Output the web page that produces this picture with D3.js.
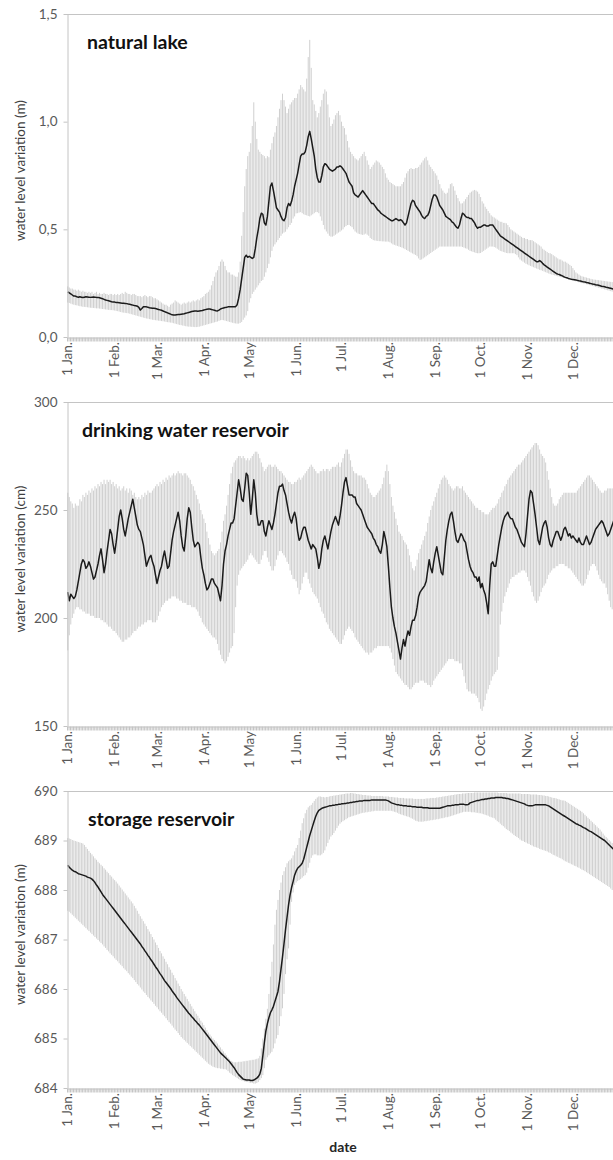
<!DOCTYPE html>
<html>
<head>
<meta charset="utf-8">
<script src="https://cdn.jsdelivr.net/npm/d3@7"></script>
<style>
  body { margin: 0; background: #fff; }
  svg { display: block; }
  text { font-family: Lato, "Open Sans", sans-serif; }
</style>
</head>
<body>
<svg id="chart" width="613" height="1160"></svg>
<script>
// ---- calendar (one value per day, 1 Jan .. 31 Dec) ----
const monthLabels = ["1 Jan.", "1 Feb.", "1 Mar.", "1 Apr.", "1 May", "1 Jun.", "1 Jul.", "1 Aug.", "1 Sep.", "1 Oct.", "1 Nov.", "1 Dec."];
const monthStartDays = [0, 31, 59, 90, 120, 151, 181, 212, 243, 273, 304, 334];

// ---- natural lake (m): daily mean, minimum and maximum ----
const lakeMean = [
  .21,.205,.20,.195,.19,.19,.187,.185,.187,.185,.183,.185,.187,.186,.185,.184,.185,.186,.185,.184,.184,.182,.18,.178,.175,.172,.17,.168,.166,.164,.163,
  .162,.16,.16,.159,.158,.157,.157,.156,.155,.153,.152,.15,.148,.146,.145,.143,.138,.125,.132,.14,.141,.14,.138,.136,.135,.134,.133,.132,
  .13,.128,.126,.124,.121,.118,.115,.112,.109,.106,.103,.102,.102,.103,.104,.105,.106,.107,.108,.11,.112,.114,.116,.118,.12,.121,.121,.12,.121,.122,.123,
  .125,.127,.129,.13,.13,.128,.126,.124,.122,.121,.125,.13,.133,.135,.137,.138,.14,.14,.14,.141,.141,.141,.15,.18,.22,.27,.32,.37,.38,.37,
  .375,.37,.365,.37,.41,.46,.5,.55,.575,.57,.53,.52,.56,.63,.7,.715,.68,.64,.6,.59,.58,.56,.545,.54,.555,.6,.62,.61,.63,.66,.7,
  .73,.76,.80,.84,.85,.85,.86,.89,.93,.955,.92,.88,.84,.78,.74,.72,.72,.75,.79,.805,.80,.79,.78,.775,.77,.775,.78,.79,.79,.795,
  .79,.78,.77,.76,.74,.72,.71,.70,.67,.66,.655,.65,.66,.67,.68,.67,.66,.65,.64,.63,.62,.62,.61,.60,.59,.585,.575,.57,.565,.56,.555,
  .55,.545,.54,.54,.545,.55,.545,.54,.545,.54,.53,.52,.53,.56,.59,.62,.635,.63,.61,.6,.59,.58,.565,.555,.55,.56,.565,.58,.61,.64,.66,
  .66,.65,.63,.61,.6,.59,.575,.56,.555,.55,.545,.535,.53,.52,.51,.505,.52,.55,.575,.57,.56,.555,.555,.55,.55,.54,.53,.515,.505,.51,
  .51,.515,.52,.52,.515,.515,.52,.52,.52,.51,.5,.49,.48,.47,.465,.46,.455,.45,.445,.44,.435,.43,.425,.42,.415,.41,.405,.4,.395,.39,.385,
  .38,.375,.37,.365,.36,.355,.35,.35,.355,.35,.342,.335,.33,.325,.32,.315,.31,.305,.3,.295,.292,.29,.287,.284,.28,.277,.275,.272,.27,.268,
  .267,.266,.265,.263,.261,.26,.258,.256,.255,.253,.252,.25,.248,.246,.245,.243,.242,.24,.238,.236,.235,.233,.231,.23,.228,.226,.224,.222,.22,.218,.216
];
const lakeLow = [
  .16,.158,.155,.152,.15,.148,.147,.145,.143,.142,.14,.14,.139,.138,.137,.136,.135,.135,.134,.133,.133,.132,.131,.13,.129,.128,.127,.126,.125,.125,.124,
  .123,.121,.12,.118,.116,.114,.113,.112,.111,.11,.108,.106,.104,.102,.1,.098,.096,.094,.092,.09,.088,.086,.085,.083,.082,.08,.079,.078,
  .077,.076,.075,.074,.073,.072,.07,.069,.068,.067,.066,.064,.062,.06,.058,.056,.055,.053,.052,.05,.049,.048,.048,.047,.047,.046,.046,.047,.048,.05,.052,
  .054,.056,.058,.06,.062,.064,.066,.068,.07,.072,.075,.078,.079,.078,.076,.074,.072,.07,.068,.066,.064,.063,.062,.062,.065,.07,.08,.09,.1,.12,
  .16,.18,.2,.21,.22,.23,.24,.25,.26,.265,.28,.3,.32,.34,.37,.4,.42,.43,.44,.45,.46,.47,.48,.485,.489,.5,.51,.52,.53,.55,.56,
  .574,.575,.578,.58,.575,.57,.567,.565,.562,.56,.565,.57,.575,.58,.58,.575,.56,.54,.52,.5,.49,.48,.47,.466,.466,.47,.475,.48,.485,.489,
  .495,.5,.51,.515,.52,.52,.515,.51,.5,.49,.485,.48,.478,.476,.474,.476,.48,.475,.47,.46,.455,.45,.448,.447,.446,.445,.445,.444,.444,.443,.443,
  .443,.44,.435,.43,.428,.425,.423,.42,.418,.415,.412,.408,.404,.4,.396,.392,.388,.384,.381,.375,.365,.358,.36,.365,.37,.375,.38,.385,.39,.395,.4,
  .405,.41,.415,.42,.42,.42,.42,.42,.42,.42,.42,.42,.42,.42,.42,.42,.42,.42,.418,.415,.412,.41,.405,.4,.398,.395,.393,.39,.389,.389,
  .39,.395,.4,.405,.41,.415,.42,.42,.42,.418,.415,.41,.405,.4,.398,.395,.393,.39,.389,.389,.389,.389,.389,.385,.38,.37,.36,.355,.35,.345,.34,
  .337,.333,.33,.327,.324,.321,.318,.315,.312,.31,.307,.304,.301,.298,.295,.292,.29,.288,.286,.284,.282,.28,.278,.276,.274,.272,.27,.268,.266,.264,
  .262,.26,.258,.256,.254,.252,.25,.249,.247,.245,.243,.241,.239,.237,.235,.233,.231,.229,.227,.225,.223,.221,.219,.217,.215,.213,.211,.209,.207,.205,.203
];
const lakeHigh = [
  .235,.23,.225,.225,.22,.22,.215,.22,.215,.21,.215,.21,.21,.205,.21,.205,.21,.2,.205,.21,.2,.205,.2,.2,.205,.2,.2,.195,.2,.2,.195,
  .2,.195,.2,.195,.2,.205,.2,.21,.205,.2,.2,.195,.2,.2,.195,.19,.19,.19,.185,.19,.195,.19,.185,.19,.19,.185,.18,.18,
  .175,.17,.165,.16,.155,.15,.15,.145,.14,.15,.155,.16,.17,.165,.16,.155,.15,.155,.16,.155,.16,.165,.16,.165,.17,.165,.17,.175,.17,.18,.185,
  .19,.2,.205,.21,.22,.24,.26,.28,.3,.31,.33,.35,.36,.35,.33,.31,.3,.3,.29,.29,.285,.28,.28,.3,.35,.47,.58,.7,.78,.84,
  .86,.9,.98,1.09,1.0,.92,.87,.86,.85,.845,.84,.83,.84,.835,.87,.9,.93,.95,.98,1.02,1.06,1.1,1.13,1.1,1.07,1.04,1.06,1.08,1.09,1.1,1.11,
  1.11,1.13,1.15,1.17,1.16,1.15,1.14,1.2,1.3,1.38,1.25,1.1,1.08,1.05,1.02,1.04,1.07,1.1,1.13,1.15,1.14,1.08,1.02,.98,.99,1.01,1.03,1.04,1.05,1.03,
  1.0,.98,.97,.94,.91,.88,.86,.85,.84,.83,.825,.82,.83,.84,.85,.86,.84,.82,.8,.78,.79,.8,.81,.82,.815,.81,.8,.79,.78,.76,.74,
  .73,.72,.715,.71,.705,.7,.7,.7,.7,.71,.72,.74,.76,.77,.78,.785,.78,.78,.785,.785,.79,.8,.81,.82,.83,.837,.82,.8,.79,.78,.77,
  .76,.75,.73,.71,.69,.68,.67,.665,.67,.69,.71,.714,.7,.68,.66,.645,.63,.62,.621,.63,.64,.65,.66,.67,.675,.68,.683,.68,.675,.665,
  .65,.63,.62,.605,.595,.585,.575,.565,.559,.555,.55,.545,.54,.535,.535,.53,.53,.528,.52,.51,.5,.495,.49,.485,.48,.475,.47,.465,.46,.46,.455,
  .455,.45,.45,.45,.445,.44,.435,.43,.425,.42,.41,.405,.4,.395,.39,.389,.385,.38,.375,.37,.365,.36,.36,.355,.35,.35,.345,.34,.335,.33,
  .32,.31,.3,.295,.29,.285,.282,.28,.278,.276,.274,.272,.27,.268,.267,.266,.265,.264,.263,.262,.261,.26,.259,.258,.257,.256,.255,.254,.253,.252,.251
];

// ---- drinking water reservoir (cm): daily mean, minimum and maximum ----
const drinkMean = [
  212,208,211,210,209,210,213,217,221,225,227,226,223,224,226,224,221,218,219,222,225,229,232,227,221,225,231,236,241,239,234,
  230,235,241,247,250,246,241,238,242,246,249,252,255,251,247,243,241,240,237,234,229,224,226,228,229,226,224,220,
  216,219,222,224,228,231,227,223,224,230,236,240,243,246,249,245,238,233,231,238,246,251,249,242,236,233,234,235,234,228,223,
  220,216,213,214,216,218,218,216,215,214,211,208,215,225,231,234,238,241,244,244,246,252,258,264,260,255,254,260,267,266,
  258,248,255,264,258,248,243,243,245,245,240,238,242,245,243,241,244,248,253,258,261,261,262,259,257,253,249,246,244,247,249,
  246,240,236,237,240,242,242,239,236,234,232,234,233,232,228,223,226,232,236,238,235,232,236,240,243,245,247,245,243,247,
  252,258,263,265,261,257,257,257,256,256,253,252,251,250,248,246,244,242,241,240,239,237,236,234,233,231,230,234,240,237,233,
  224,214,205,200,196,193,189,185,181,186,190,187,191,194,192,196,199,199,201,205,210,212,213,214,215,217,222,227,223,221,226,
  230,233,229,225,221,220,228,236,241,245,248,249,245,240,236,235,237,239,238,236,235,231,227,224,222,221,219,219,217,219,
  214,216,213,211,207,202,215,225,226,224,224,229,234,238,242,245,247,248,249,247,246,246,244,242,241,239,237,235,234,233,239,
  247,255,259,258,253,248,242,236,234,238,242,244,245,242,237,234,233,236,238,240,240,238,236,238,241,242,240,238,239,237,
  238,237,236,235,237,235,234,234,236,238,236,234,235,237,239,241,242,243,244,245,244,242,240,238,239,241,243,245,244,242,243
];
const drinkLow = [
  185,192,197,200,202,204,205,205,204,204,203,203,202,202,202,201,201,201,200,200,200,200,199,199,198,198,197,196,196,195,194,
  194,193,192,191,190,189,189,190,190,191,191,192,193,194,194,195,196,196,197,197,198,198,199,199,199,198,198,198,
  199,201,203,205,206,207,208,208,209,209,210,210,210,209,209,208,208,207,207,207,206,206,206,205,205,205,204,203,201,200,198,
  197,196,195,194,193,192,191,191,190,188,185,183,181,180,179,180,182,184,186,187,193,205,215,220,222,223,224,225,226,227,
  229,230,229,228,227,226,225,225,227,229,231,231,228,226,224,222,222,224,227,229,231,231,230,229,228,226,225,222,220,218,218,
  217,214,211,213,216,219,221,221,218,216,214,212,211,210,209,207,205,203,202,200,198,197,195,194,193,192,191,190,189,188,
  188,190,192,194,195,196,195,194,193,191,190,189,188,187,186,185,184,184,183,184,184,185,186,186,187,187,187,187,187,187,187,
  187,186,184,181,178,175,174,173,172,171,170,169,169,168,167,167,168,169,170,170,170,171,171,171,170,170,169,169,168,169,171,
  172,173,174,175,176,177,178,179,180,181,181,181,181,180,180,180,179,179,176,173,170,167,166,166,165,165,165,164,163,161,
  158,157,159,162,165,167,169,171,173,174,175,176,182,197,203,207,210,212,214,216,218,219,219,220,220,221,221,222,222,222,221,
  219,217,215,212,210,208,207,208,210,212,214,215,216,218,220,221,222,223,223,224,224,225,225,225,225,224,224,223,223,222,
  221,220,219,218,217,216,215,215,216,218,220,222,224,225,225,224,222,220,218,217,216,216,214,211,208,205,204,204,203,203,203
];
const drinkHigh = [
  258,256,254,253,251,253,252,252,255,254,257,256,258,257,259,258,260,259,261,260,262,261,263,262,264,262,264,263,264,262,263,
  261,262,260,261,259,260,261,259,260,258,260,259,257,258,256,255,256,255,257,256,258,257,259,258,258,259,260,261,
  262,261,263,262,264,263,265,264,266,265,266,267,266,267,268,267,267,266,267,267,266,265,264,262,261,259,257,255,253,250,248,
  246,244,240,237,234,231,230,229,230,231,232,235,240,245,248,252,257,262,267,270,272,273,274,275,275,274,275,274,273,274,
  273,274,275,276,277,277,276,274,272,270,268,269,270,271,271,270,270,271,270,269,268,268,267,266,265,264,263,263,262,262,263,
  263,264,265,264,265,266,267,268,269,270,271,270,269,268,267,267,268,268,269,268,269,269,268,269,270,270,270,271,272,270,
  272,274,276,278,278,276,273,270,268,267,267,266,266,266,265,265,264,262,260,258,257,256,256,257,258,259,260,262,265,268,271,
  268,262,256,252,249,246,243,240,239,238,236,235,234,232,229,226,223,222,224,227,230,232,234,236,238,240,244,247,250,252,254,
  256,258,260,262,264,265,266,265,264,262,261,260,259,260,261,261,260,260,261,259,258,257,256,255,254,253,252,251,251,250,
  250,249,249,248,248,248,249,250,251,251,252,253,255,256,258,259,261,262,264,265,266,267,268,269,270,271,271,272,273,274,275,
  276,277,278,279,280,281,281,280,278,276,275,274,272,268,264,260,256,253,252,252,253,255,256,257,258,258,258,258,258,258,
  258,258,258,259,260,261,262,263,264,265,266,266,265,264,263,262,261,260,259,258,258,259,259,260,260,260,260,259,259,258,258
];

// ---- storage reservoir (m a.s.l.): daily mean, minimum and maximum ----
const storageMean = [
  688.50,688.46,688.43,688.40,688.38,688.37,688.35,688.33,688.32,688.31,688.30,688.29,688.28,688.26,688.25,688.24,688.22,688.19,688.15,688.10,688.06,688.01,687.96,687.91,687.87,687.83,687.79,687.75,687.71,687.67,687.63,
  687.59,687.55,687.51,687.47,687.43,687.39,687.35,687.31,687.27,687.23,687.19,687.15,687.11,687.07,687.03,686.99,686.95,686.91,686.86,686.82,686.77,686.73,686.68,686.64,686.59,686.55,686.50,686.45,
  686.41,686.36,686.31,686.27,686.22,686.17,686.13,686.09,686.05,686.01,685.96,685.92,685.88,685.83,685.79,685.75,685.71,685.67,685.63,685.59,685.55,685.51,685.48,685.44,685.41,685.37,685.34,685.30,685.27,685.23,685.19,
  685.15,685.11,685.07,685.03,684.99,684.95,684.91,684.87,684.83,684.79,684.75,684.71,684.68,684.65,684.62,684.59,684.56,684.53,684.49,684.45,684.41,684.36,684.31,684.27,684.24,684.21,684.18,684.17,684.16,684.16,
  684.16,684.15,684.15,684.16,684.18,684.20,684.23,684.28,684.40,684.65,684.92,685.15,685.30,685.42,685.52,685.58,685.65,685.75,685.85,685.95,686.15,686.40,686.65,686.92,687.20,687.45,687.70,687.90,688.05,688.17,688.30,
  688.38,688.44,688.47,688.50,688.54,688.62,688.74,688.86,688.98,689.10,689.20,689.30,689.40,689.49,689.56,689.61,689.63,689.65,689.66,689.67,689.68,689.69,689.70,689.70,689.71,689.71,689.72,689.72,689.73,689.73,
  689.74,689.74,689.75,689.75,689.76,689.76,689.77,689.77,689.78,689.78,689.79,689.79,689.80,689.80,689.80,689.81,689.81,689.81,689.81,689.81,689.82,689.82,689.82,689.82,689.82,689.82,689.82,689.82,689.82,689.82,689.81,
  689.80,689.78,689.76,689.75,689.74,689.73,689.72,689.72,689.71,689.71,689.70,689.70,689.70,689.69,689.69,689.69,689.68,689.68,689.68,689.67,689.67,689.67,689.67,689.66,689.66,689.66,689.66,689.65,689.65,689.65,689.65,
  689.65,689.65,689.65,689.65,689.66,689.67,689.68,689.69,689.70,689.70,689.70,689.71,689.71,689.72,689.72,689.72,689.73,689.73,689.73,689.73,689.72,689.72,689.73,689.76,689.77,689.78,689.79,689.80,689.81,689.81,
  689.82,689.83,689.83,689.84,689.84,689.85,689.85,689.86,689.86,689.86,689.87,689.87,689.87,689.87,689.87,689.86,689.86,689.85,689.85,689.84,689.83,689.82,689.81,689.80,689.79,689.78,689.77,689.76,689.75,689.74,689.72,
  689.71,689.70,689.70,689.70,689.71,689.72,689.72,689.72,689.72,689.72,689.72,689.72,689.72,689.71,689.70,689.68,689.66,689.64,689.62,689.60,689.58,689.56,689.54,689.52,689.50,689.48,689.46,689.44,689.42,689.40,
  689.38,689.36,689.34,689.33,689.31,689.30,689.28,689.26,689.25,689.23,689.21,689.19,689.18,689.16,689.14,689.12,689.10,689.08,689.06,689.04,689.02,689.00,688.97,688.94,688.91,688.88,688.85,688.82,688.79,688.76,688.73
];
const storageLow = [
  687.58,687.56,687.53,687.50,687.47,687.44,687.41,687.38,687.35,687.32,687.29,687.26,687.23,687.20,687.17,687.14,687.11,687.08,687.05,687.02,686.99,686.96,686.93,686.90,686.86,686.83,686.79,686.76,686.72,686.69,686.66,
  686.62,686.59,686.56,686.52,686.49,686.46,686.42,686.39,686.36,686.32,686.29,686.25,686.22,686.18,686.14,686.10,686.07,686.03,685.99,685.95,685.92,685.88,685.84,685.81,685.77,685.74,685.70,685.66,
  685.63,685.59,685.55,685.52,685.48,685.45,685.41,685.37,685.33,685.30,685.26,685.22,685.18,685.15,685.11,685.07,685.03,685.00,684.97,684.94,684.91,684.88,684.85,684.82,684.79,684.76,684.73,684.70,684.67,684.64,684.61,
  684.58,684.55,684.52,684.49,684.47,684.45,684.43,684.42,684.41,684.40,684.40,684.39,684.39,684.38,684.38,684.37,684.34,684.31,684.29,684.26,684.24,684.22,684.20,684.18,684.16,684.15,684.14,684.13,684.12,684.12,
  684.11,684.10,684.10,684.09,684.09,684.10,684.12,684.16,684.20,684.26,684.40,684.57,684.62,684.66,684.70,684.73,684.80,684.90,685.00,685.07,685.25,685.45,685.61,685.90,686.30,686.60,686.82,687.30,687.76,687.95,688.10,
  688.15,688.18,688.20,688.22,688.25,688.28,688.30,688.35,688.45,688.55,688.65,688.70,688.72,688.72,688.70,688.70,688.70,688.72,688.75,688.80,688.88,688.95,689.02,689.08,689.11,689.15,689.20,689.25,689.30,689.34,
  689.37,689.39,689.41,689.43,689.45,689.47,689.48,689.49,689.50,689.51,689.52,689.53,689.54,689.55,689.56,689.56,689.57,689.57,689.58,689.58,689.59,689.59,689.60,689.60,689.60,689.60,689.60,689.60,689.60,689.60,689.60,
  689.60,689.60,689.60,689.59,689.58,689.57,689.56,689.54,689.53,689.52,689.51,689.50,689.49,689.48,689.47,689.45,689.44,689.42,689.40,689.39,689.38,689.38,689.38,689.38,689.39,689.39,689.40,689.40,689.41,689.41,689.42,
  689.42,689.43,689.43,689.44,689.45,689.45,689.46,689.47,689.47,689.48,689.49,689.50,689.51,689.52,689.53,689.54,689.55,689.56,689.57,689.58,689.58,689.58,689.58,689.58,689.57,689.57,689.57,689.56,689.56,689.55,
  689.55,689.54,689.53,689.52,689.51,689.50,689.48,689.47,689.46,689.45,689.42,689.39,689.37,689.34,689.31,689.29,689.26,689.23,689.21,689.19,689.16,689.14,689.11,689.09,689.07,689.05,689.02,689.00,688.99,688.97,688.96,
  688.94,688.93,688.91,688.90,688.88,688.87,688.86,688.85,688.83,688.82,688.81,688.80,688.79,688.78,688.76,688.75,688.73,688.71,688.70,688.68,688.67,688.65,688.64,688.62,688.60,688.58,688.57,688.55,688.54,688.52,
  688.51,688.49,688.48,688.46,688.45,688.43,688.41,688.40,688.38,688.36,688.34,688.32,688.30,688.28,688.26,688.24,688.22,688.20,688.18,688.16,688.14,688.12,688.10,688.08,688.06,688.03,688.00,687.98,687.96,687.94,687.92
];
const storageHigh = [
  689.05,689.04,689.03,689.01,689.00,688.99,688.98,688.97,688.96,688.95,688.94,688.91,688.87,688.83,688.79,688.75,688.72,688.68,688.64,688.61,688.57,688.54,688.51,688.48,688.44,688.41,688.37,688.34,688.30,688.27,688.23,
  688.20,688.17,688.13,688.09,688.05,688.01,687.97,687.93,687.89,687.85,687.81,687.77,687.73,687.68,687.63,687.58,687.52,687.47,687.42,687.37,687.32,687.27,687.21,687.16,687.11,687.05,687.00,686.94,
  686.89,686.83,686.77,686.72,686.66,686.61,686.55,686.50,686.44,686.39,686.33,686.28,686.22,686.17,686.11,686.06,686.00,685.95,685.90,685.85,685.80,685.75,685.70,685.65,685.60,685.55,685.50,685.46,685.41,685.36,685.32,
  685.27,685.22,685.17,685.12,685.08,685.04,685.00,684.97,684.94,684.90,684.86,684.82,684.78,684.74,684.70,684.66,684.62,684.58,684.55,684.53,684.52,684.52,684.52,684.53,684.53,684.53,684.54,684.54,684.55,684.55,
  684.56,684.56,684.57,684.57,684.58,684.59,684.60,684.65,684.80,685.00,685.20,685.40,685.60,685.90,686.25,686.55,686.90,687.30,687.60,687.80,688.00,688.15,688.30,688.38,688.46,688.54,688.58,688.61,688.64,688.70,688.78,
  688.85,688.91,689.05,689.20,689.35,689.45,689.55,689.62,689.67,689.70,689.72,689.76,689.80,689.84,689.87,689.89,689.89,689.88,689.88,689.87,689.88,689.88,689.89,689.90,689.90,689.91,689.91,689.92,689.92,689.93,
  689.93,689.94,689.94,689.95,689.95,689.95,689.96,689.96,689.95,689.95,689.94,689.94,689.93,689.93,689.92,689.92,689.92,689.91,689.91,689.91,689.90,689.90,689.90,689.90,689.90,689.90,689.90,689.90,689.89,689.89,689.89,
  689.89,689.88,689.88,689.88,689.87,689.87,689.87,689.86,689.86,689.86,689.86,689.85,689.85,689.85,689.85,689.85,689.85,689.84,689.84,689.84,689.84,689.84,689.84,689.84,689.84,689.85,689.85,689.85,689.86,689.86,689.86,
  689.86,689.87,689.87,689.88,689.88,689.89,689.89,689.90,689.90,689.91,689.91,689.92,689.92,689.93,689.93,689.94,689.94,689.94,689.95,689.95,689.95,689.96,689.96,689.96,689.96,689.96,689.97,689.97,689.97,689.97,
  689.97,689.97,689.97,689.97,689.97,689.97,689.97,689.97,689.97,689.97,689.97,689.97,689.96,689.96,689.96,689.96,689.96,689.96,689.95,689.95,689.95,689.95,689.95,689.95,689.95,689.95,689.95,689.94,689.94,689.94,689.94,
  689.94,689.94,689.93,689.93,689.93,689.93,689.93,689.92,689.92,689.92,689.91,689.91,689.90,689.90,689.89,689.88,689.87,689.86,689.86,689.85,689.84,689.83,689.82,689.81,689.81,689.80,689.78,689.76,689.74,689.72,
  689.70,689.68,689.66,689.64,689.62,689.60,689.58,689.55,689.52,689.49,689.46,689.43,689.40,689.37,689.34,689.31,689.28,689.25,689.22,689.18,689.14,689.10,689.07,689.04,689.01,688.98,688.95,688.92,688.89,688.86,688.83
];

// ---- axis tick values ----
const lakeTicks = [0, 0.5, 1.0, 1.5];
const drinkTicks = [150, 200, 250, 300];
const storageTicks = [684, 685, 686, 687, 688, 689, 690];

// decimal comma for the lake axis
const commaLocale = d3.formatLocale({ decimal: ",", thousands: ".", grouping: [3], currency: ["", " €"] });

const panels = [
  { title: "natural lake", yTitle: "water level variation (m)",
    mean: lakeMean, low: lakeLow, high: lakeHigh,
    domain: [0, 1.5], ticks: lakeTicks, format: commaLocale.format(".1f"),
    top: 14, bottom: 337, titleX: 87 },
  { title: "drinking water reservoir", yTitle: "water level variation (cm)",
    mean: drinkMean, low: drinkLow, high: drinkHigh,
    domain: [150, 300], ticks: drinkTicks, format: d3.format("d"),
    top: 402, bottom: 726, titleX: 82 },
  { title: "storage reservoir", yTitle: "water level variation (m)",
    mean: storageMean, low: storageLow, high: storageHigh,
    domain: [684, 690], ticks: storageTicks, format: d3.format("d"),
    top: 791, bottom: 1088, titleX: 88 }
];

const svg = d3.select("#chart");
const plotLeft = 67, plotRight = 619;
const x = d3.scaleLinear().domain([0, 365]).range([plotLeft, plotRight]);
const axisGrey = "#c4c4c4";
const labelGrey = "#595959";
const smallFont = "13.5px";

panels.forEach(p => {
  const y = d3.scaleLinear().domain(p.domain).range([p.bottom, p.top]);
  const g = svg.append("g");

  // frame: top border
  g.append("line")
    .attr("x1", plotLeft).attr("x2", 613)
    .attr("y1", p.top + 0.5).attr("y2", p.top + 0.5)
    .attr("stroke", axisGrey).attr("stroke-width", 1);

  // daily range bars (minimum to maximum)
  g.append("g").selectAll("rect")
    .data(p.mean.map((_, i) => i))
    .join("rect")
    .attr("x", i => x(i + 0.5) - 0.5)
    .attr("width", 1)
    .attr("y", i => y(p.high[i]))
    .attr("height", i => Math.max(0.5, y(p.low[i]) - y(p.high[i])))
    .attr("fill", "#d0d0d0");

  // daily mean
  g.append("path")
    .datum(p.mean)
    .attr("fill", "none")
    .attr("stroke", "#1b1b1b")
    .attr("stroke-width", 1.5)
    .attr("stroke-linejoin", "round")
    .attr("d", d3.line().x((v, i) => x(i + 0.5)).y(v => y(v)));

  // y axis
  const yAxis = g.append("g")
    .attr("transform", `translate(${plotLeft + 0.5},0)`)
    .call(d3.axisLeft(y).tickValues(p.ticks).tickFormat(p.format).tickSize(4).tickSizeOuter(0).tickPadding(6));
  yAxis.select(".domain").attr("stroke", axisGrey);
  yAxis.selectAll(".tick line").attr("stroke", axisGrey);
  yAxis.selectAll(".tick text")
    .attr("fill", labelGrey)
    .style("font-family", "Lato, 'Open Sans', sans-serif")
    .style("font-size", smallFont);

  // x axis: one tick mark per day
  const xAxis = g.append("g")
    .attr("transform", `translate(0,${p.bottom + 0.5})`)
    .call(d3.axisBottom(x).tickValues(d3.range(0, 366)).tickFormat("").tickSize(4).tickSizeOuter(0));
  xAxis.select(".domain").attr("stroke", axisGrey);
  xAxis.selectAll(".tick line").attr("stroke", axisGrey);

  // month labels, rotated
  g.append("g").selectAll("text")
    .data(monthStartDays)
    .join("text")
    .attr("transform", (d) => `translate(${x(d + 0.5)},${p.bottom + 5}) rotate(-90)`)
    .attr("text-anchor", "end")
    .attr("dy", "0.35em")
    .attr("fill", labelGrey)
    .style("font-size", smallFont)
    .text((d, i) => monthLabels[i]);

  // panel title
  g.append("text")
    .attr("x", p.titleX)
    .attr("y", p.top + 35)
    .attr("fill", "#111")
    .style("font-size", "19.5px")
    .style("font-weight", "bold")
    .text(p.title);

  // y axis title
  g.append("text")
    .attr("transform", `translate(25,${(p.top + p.bottom) / 2 - 5}) rotate(-90)`)
    .attr("text-anchor", "middle")
    .attr("fill", "#404040")
    .style("font-size", "13.5px")
    .text(p.yTitle);
});

// shared x axis title
svg.append("text")
  .attr("x", 343)
  .attr("y", 1152)
  .attr("text-anchor", "middle")
  .attr("fill", "#262626")
  .style("font-size", "14px")
  .style("font-weight", "bold")
  .text("date");
</script>
</body>
</html>
